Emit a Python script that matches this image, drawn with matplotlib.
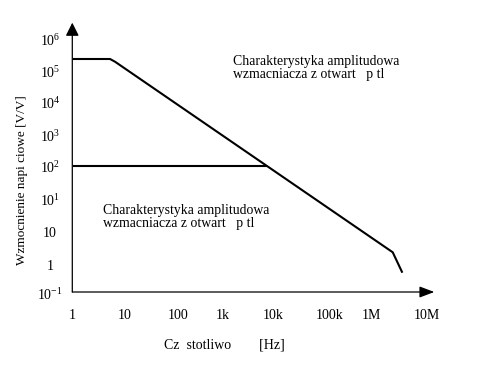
import numpy as np
import matplotlib
matplotlib.use('Agg')
import matplotlib.pyplot as plt

plt.rcParams['font.family'] = ['Liberation Serif', 'DejaVu Serif']
plt.rcParams['mathtext.fontset'] = 'custom'
plt.rcParams['mathtext.rm'] = 'Liberation Serif'
plt.rcParams['mathtext.it'] = 'Liberation Serif:italic'

# ---- data (frequency in Hz, gain in V/V) ----
open_loop_freq = [1, 5.47, 6.86, 2.13e6, 3.3e6]
open_loop_gain = [1e5, 1e5, 8.4e4, 0.381, 0.102]
closed_loop_freq = [1, 7.08e3]
closed_loop_gain = [100, 100]

x_tick_labels = ['1', '10', '100', '1k', '10k', '100k', '1M', '10M']
x_tick_pos_dec = [0, 1.034, 2.082, 2.966, 3.955, 5.088, 5.913, 7.0]
y_tick_labels = ['$10^{6}$', '$10^{5}$', '$10^{4}$', '$10^{3}$', '$10^{2}$',
                 '$10^{1}$', '10', '1', '$10^{-1}$']
y_tick_pos_dec = [5.533, 4.636, 3.766, 2.841, 1.972, 1.047, 0.150, -0.775, -1.588]

annotation_text = 'Charakterystyka amplitudowa\nwzmacniacza z otwart   p tl'
x_label = 'Cz  stotliwo        [Hz]'
y_label = 'Wzmocnienie napi ciowe [V/V]'

W, H = 502, 376
fig = plt.figure(figsize=(W / 100, H / 100), dpi=100)
ax = fig.add_axes([0, 0, 1, 1])
ax.set_xscale('log')
ax.set_yscale('log')
ax.set_xlim(10 ** -1.4376, 10 ** 8.489)
ax.set_ylim(10 ** -3.887, 10 ** 6.654)
ax.axis('off')


def fpx(x, y):
    return (x / W, 1 - y / H)


# axes with arrows
x0, y0 = 10 ** -0.008, 10 ** -1.532
ax.annotate('', xy=(10 ** 7.15, y0), xytext=(x0, y0),
            arrowprops=dict(arrowstyle='-|>,head_length=0.45,head_width=0.17',
                            mutation_scale=20, lw=0.9, color='black',
                            shrinkA=0, shrinkB=0))
ax.annotate('', xy=(x0, 10 ** 6.018), xytext=(x0, y0),
            arrowprops=dict(arrowstyle='-|>,head_length=0.4,head_width=0.2',
                            mutation_scale=20, lw=0.9, color='black',
                            shrinkA=0, shrinkB=0))

# curves
ax.plot(open_loop_freq, open_loop_gain, color='black', lw=1.5,
        solid_joinstyle='round', solid_capstyle='butt')
ax.plot(closed_loop_freq, closed_loop_gain, color='black', lw=1.5,
        solid_capstyle='butt')

# tick labels
for lab, p in zip(x_tick_labels, x_tick_pos_dec):
    ax.text(10 ** p, 10 ** -2.149, lab, ha='center', va='center_baseline',
            fontsize=10)
for lab, p in zip(y_tick_labels, y_tick_pos_dec):
    ax.text(10 ** -0.449, 10 ** p, lab, ha='center', va='center_baseline',
            fontsize=10)

# annotations
fig.text(*fpx(233, 68.3), annotation_text, ha='left', va='center',
         fontsize=9.9, linespacing=1.0)
fig.text(*fpx(102.7, 217), annotation_text, ha='left', va='center',
         fontsize=9.9, linespacing=1.0)

# axis titles
fig.text(*fpx(224, 345), x_label, ha='center', va='center', fontsize=10)
fig.text(*fpx(21.7, 180), y_label, ha='center', va='center', rotation=90,
         fontsize=9.5)

fig.savefig('out.png', dpi=100)
